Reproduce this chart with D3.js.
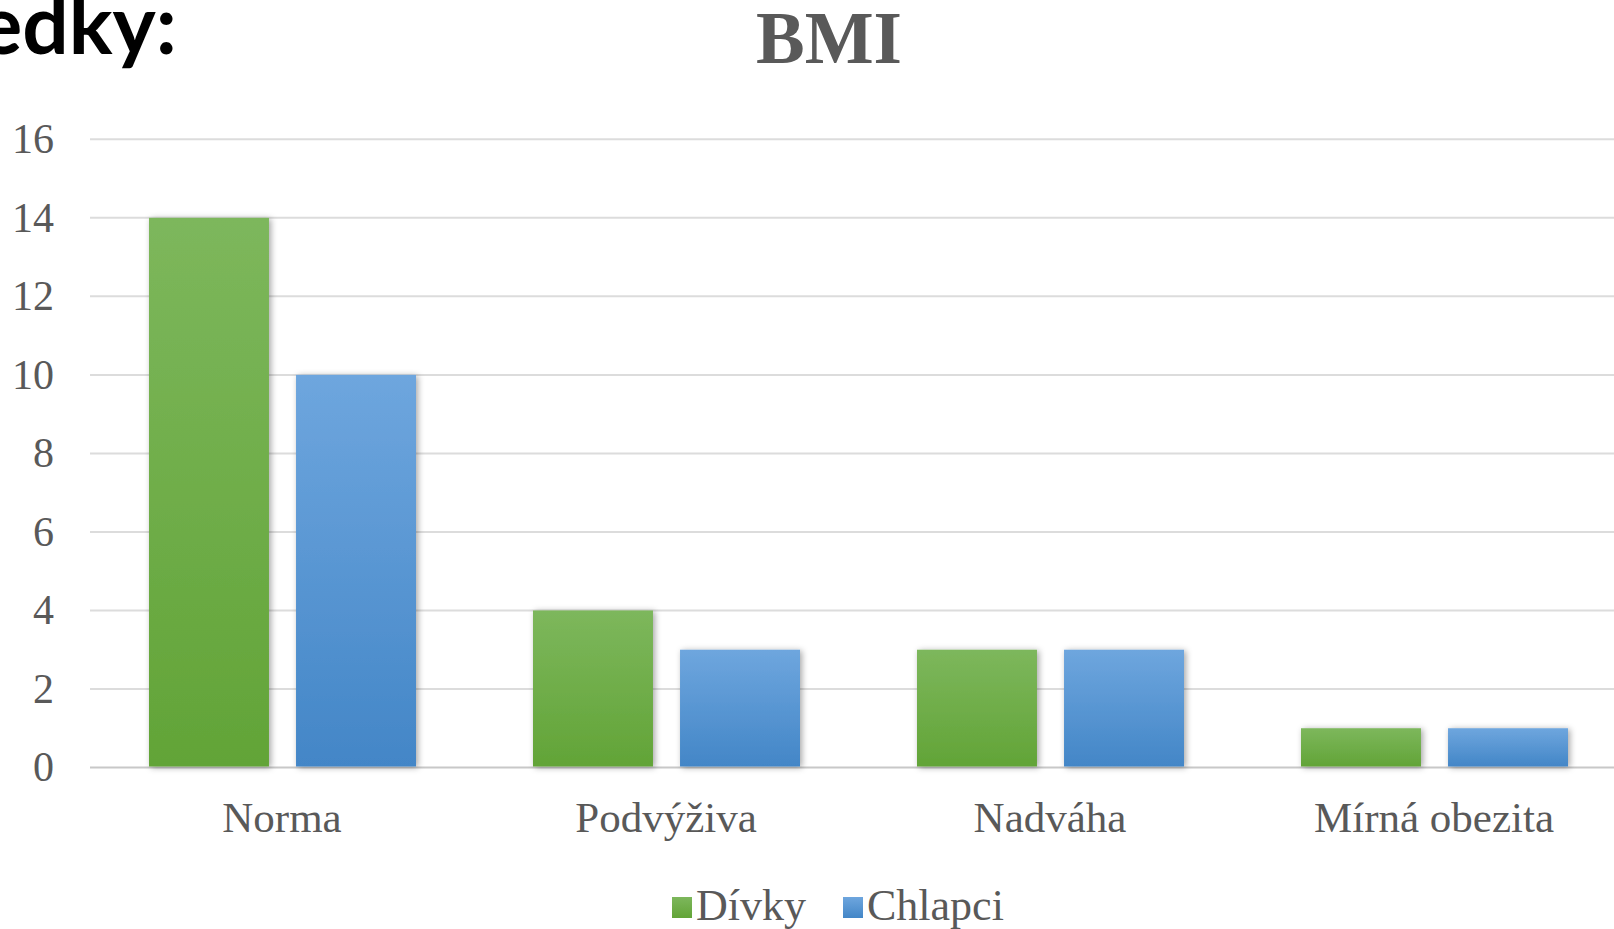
<!DOCTYPE html>
<html>
<head>
<meta charset="utf-8">
<script src="https://cdn.jsdelivr.net/npm/d3@7"></script>
<style>
  body { margin: 0; background: #fff; overflow: hidden; }
  text { font-family: "Liberation Serif", "Times New Roman", serif; fill: #595959; }
</style>
</head>
<body>
<div id="chart"></div>
<script>
// data
var categories = ["Norma", "Podvýživa", "Nadváha", "Mírná obezita"];
var seriesNames = ["Dívky", "Chlapci"];
var divky = [14, 4, 3, 1];
var chlapci = [10, 3, 3, 1];
var yTicks = [0, 2, 4, 6, 8, 10, 12, 14, 16];

var width = 1614, height = 929;

var svg = d3.select("#chart").append("svg")
    .attr("width", width)
    .attr("height", height);

var defs = svg.append("defs");

// gradients for the bars (lighter on top)
var grads = [
    { id: "gGreen", top: "#7db75c", bottom: "#62a437" },
    { id: "gBlue", top: "#6ea6de", bottom: "#4386c7" }
];
grads.forEach(function(g) {
    var lg = defs.append("linearGradient").attr("id", g.id)
        .attr("x1", 0).attr("y1", 0).attr("x2", 0).attr("y2", 1);
    lg.append("stop").attr("offset", "0%").attr("stop-color", g.top);
    lg.append("stop").attr("offset", "100%").attr("stop-color", g.bottom);
});

var shadow = defs.append("filter").attr("id", "shadow")
    .attr("x", "-20%").attr("y", "-20%").attr("width", "140%").attr("height", "140%");
shadow.append("feDropShadow")
    .attr("dx", 2).attr("dy", 1).attr("stdDeviation", 3)
    .attr("flood-color", "#000").attr("flood-opacity", 0.35);

// slide heading, cut off on the left
svg.append("text")
    .attr("x", 177)
    .attr("y", 54)
    .attr("text-anchor", "end")
    .style("font-family", "Lato, 'Open Sans', sans-serif")
    .style("font-weight", "bold")
    .style("font-size", "82px")
    .style("fill", "#000")
    .text("Výsledky:");

// title
svg.append("text")
    .attr("x", 829)
    .attr("y", 63)
    .attr("text-anchor", "middle")
    .style("font-weight", "bold")
    .style("font-size", "73px")
    .text("BMI");

// scales
var x0 = d3.scaleBand()
    .domain(categories)
    .range([90, 1626])
    .padding(0);

var x1 = d3.scaleBand()
    .domain(seriesNames)
    .range([59, 326])
    .paddingInner(0.184);

var y = d3.scaleLinear()
    .domain([0, 16])
    .range([767.5, 139.3]);

// gridlines
svg.append("g")
    .selectAll("line")
    .data(yTicks)
    .enter()
    .append("line")
    .attr("x1", 90)
    .attr("x2", width)
    .attr("y1", function(d) { return y(d); })
    .attr("y2", function(d) { return y(d); })
    .style("stroke", function(d) { return d == 0 ? "#c8c8c8" : "#dcdcdc"; })
    .style("stroke-width", 2);

// y axis labels
var yAxis = svg.append("g")
    .attr("transform", "translate(54,0)")
    .call(d3.axisLeft(y).tickValues(yTicks).tickSize(0).tickPadding(0));
yAxis.select(".domain").remove();
yAxis.selectAll("text")
    .style("font-family", "'Liberation Serif', serif")
    .style("font-size", "42px")
    .style("fill", "#595959");

// bars
var table = categories.map(function(c, i) {
    return { cat: c, values: [
        { key: "Dívky", value: divky[i], fill: "url(#gGreen)" },
        { key: "Chlapci", value: chlapci[i], fill: "url(#gBlue)" }
    ]};
});

var groups = svg.append("g")
    .selectAll("g")
    .data(table)
    .enter()
    .append("g")
    .attr("transform", function(d) { return "translate(" + x0(d.cat) + ",0)"; });

groups.selectAll("rect")
    .data(function(d) { return d.values; })
    .enter()
    .append("rect")
    .attr("x", function(d) { return x1(d.key); })
    .attr("width", x1.bandwidth())
    .attr("y", function(d) { return y(d.value); })
    .attr("height", function(d) { return y(0) - y(d.value) - 1; })
    .attr("filter", "url(#shadow)")
    .style("fill", function(d) { return d.fill; });

// x axis labels
var xAxis = svg.append("g")
    .attr("transform", "translate(0,832)")
    .call(d3.axisBottom(x0).tickSize(0).tickPadding(0));
xAxis.select(".domain").remove();
xAxis.selectAll("text")
    .attr("dy", 0)
    .attr("y", 0)
    .style("font-family", "'Liberation Serif', serif")
    .style("font-size", "43px")
    .style("fill", "#595959");

// legend
var legendData = [
    { name: "Dívky", fill: "url(#gGreen)", x: 672 },
    { name: "Chlapci", fill: "url(#gBlue)", x: 843 }
];
var legend = svg.append("g").selectAll("g")
    .data(legendData)
    .enter()
    .append("g");
legend.append("rect")
    .attr("x", function(d) { return d.x; })
    .attr("y", 897)
    .attr("width", 20)
    .attr("height", 21)
    .style("fill", function(d) { return d.fill; });
legend.append("text")
    .attr("x", function(d) { return d.x + 24; })
    .attr("y", 920)
    .style("font-size", "44px")
    .text(function(d) { return d.name; });
</script>
</body>
</html>
